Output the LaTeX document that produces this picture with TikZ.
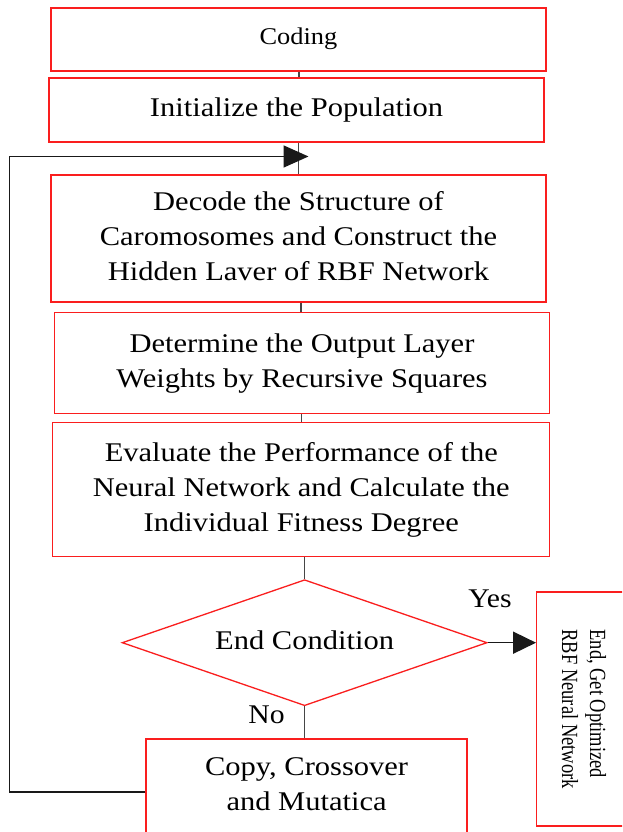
\documentclass[tikz,border=0pt]{standalone}
\usepackage{fontspec}
\usepackage{graphicx}
\setmainfont{Liberation Serif}
\usetikzlibrary{shapes.geometric,arrows.meta}

% slightly widened text block, centred lines
\newcommand{\widetext}[2][1.13]{\scalebox{#1}[1]{\begin{tabular}{@{}c@{}}#2\end{tabular}}}

\definecolor{boxred}{RGB}{250,30,30}
\definecolor{linegray}{RGB}{70,70,70}

\tikzset{
  procbox/.style={draw=boxred, line width=1.3pt, fill=white, inner sep=0pt,
    font=\fontsize{27}{35}\selectfont},
  link/.style={draw=linegray, line width=1.7pt},
  arr/.style={draw=black!90, line width=1.6pt, -{Triangle[length=25pt,width=22pt]}},
  lbl/.style={inner sep=0pt, font=\fontsize{27}{30}\selectfont}
}

\begin{document}
\begin{tikzpicture}[x=1pt,y=1pt]
\useasboundingbox (0,0) rectangle (622,832);
\clip (0,0) rectangle (622,832);
\fill[white] (0,0) rectangle (622,832);

% main column of steps
\node[procbox, minimum width=495, minimum height=63, font=\fontsize{24}{26}\selectfont]
  (coding) at (298.5,792.5) {\widetext[1.1]{Coding}};
\node[procbox, minimum width=495, minimum height=64] (init) at (296.5,722)
  {\widetext{Initialize the Population}};
\node[procbox, minimum width=495, minimum height=127] (decode) at (298.5,593.5)
  {\widetext{Decode the Structure of\\Caromosomes and Construct the\\Hidden Laver of RBF Network}};
\node[procbox, minimum width=495, minimum height=101] (weights) at (302,469.2)
  {\widetext{Determine the Output Layer\\Weights by Recursive Squares}};
\node[procbox, minimum width=497, minimum height=134] (evaluate) at (301.3,342.5)
  {\widetext{Evaluate the Performance of the\\Neural Network and Calculate the\\Individual Fitness Degree}};

% decision
\node[procbox, diamond, minimum width=365, minimum height=126, aspect=2.9]
  (cond) at (304.6,189.3) {\raisebox{-5pt}{\widetext{End Condition}}};

% genetic operators (runs off the lower edge)
\node[procbox, minimum width=321, minimum height=94] (copy) at (306.6,46)
  {\widetext{Copy, Crossover\\and Mutatica}};

% final result (runs off the right edge)
\node[procbox, rotate=-90, minimum width=234, minimum height=90,
  font=\fontsize{18.5}{22.5}\selectfont] (endbox) at (581.7,122.9)
  {\scalebox{1}[1.25]{\begin{tabular}{@{}l@{}}End, Get Optimized\\RBF Neural Network\end{tabular}}};

% straight connectors
\draw[link] (coding.south -| 298.7,0) -- (298.7,0 |- init.north);
\draw[link] (init.south -| 298.5,0) -- (298.5,0 |- decode.north);
\draw[link] (decode.south -| 300.7,0) -- (300.7,0 |- weights.north);
\draw[link] (weights.south -| 301.5,0) -- (301.5,0 |- evaluate.north);
\draw[link] (evaluate.south -| cond.north) -- (cond.north);
\draw[link] (cond.south) -- (cond.south |- copy.north);

% yes branch
\draw[arr, -{Triangle[length=23pt,width=22pt]}] (cond.east) -- (cond.east -| endbox.south);
\node[lbl] (yes) at (490,230) {\widetext[1.1]{Yes}};
\node[lbl] (no) at (266.5,114.5) {\widetext[1.1]{No}};

% feedback loop back to the decoding step
\coordinate (loopx) at (9.5,0);
\coordinate (tip) at (308.5,675.5);
\draw[arr] ([yshift=-6pt]copy.west) -- ([yshift=-6pt]copy.west -| loopx)
  -- (loopx |- tip) -- (tip);
\end{tikzpicture}
\end{document}
